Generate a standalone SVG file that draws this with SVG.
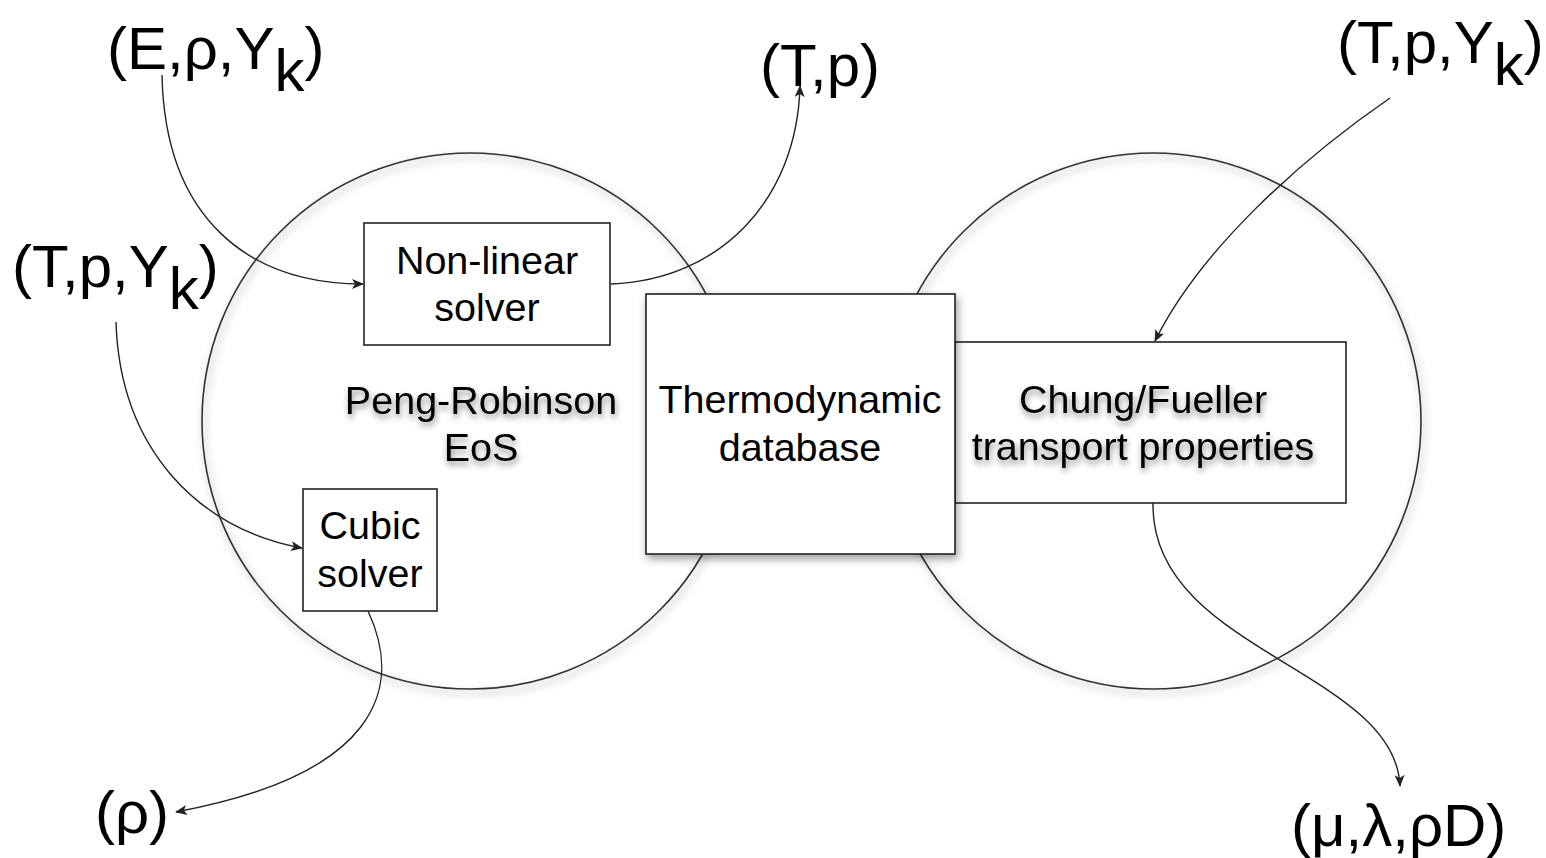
<svg xmlns="http://www.w3.org/2000/svg" width="1546" height="858" viewBox="0 0 1546 858">
<style>
.lbl{font-family:"Liberation Sans",Arial,Helvetica,sans-serif;font-size:60px;fill:#000}
.txt{font-family:"Liberation Sans",Arial,Helvetica,sans-serif;font-size:39.5px;fill:#000;text-anchor:middle}
.box{fill:#fff;stroke:#222;stroke-width:1.6}
.circ{fill:none;stroke:#333;stroke-width:1.6}
.con{fill:none;stroke:#222;stroke-width:1.4;marker-end:url(#arr)}
</style>
<defs>
<filter id="sh" x="-20%" y="-20%" width="140%" height="140%">
<feDropShadow dx="2" dy="4" stdDeviation="4" flood-color="#000" flood-opacity="0.4"/>
</filter>
<filter id="tsh" x="-20%" y="-30%" width="140%" height="160%">
<feDropShadow dx="1" dy="4" stdDeviation="3" flood-color="#000" flood-opacity="0.45"/>
</filter>
<marker id="arr" viewBox="0 0 12 10" refX="11" refY="5" markerWidth="12" markerHeight="10" markerUnits="userSpaceOnUse" orient="auto">
<path d="M0,0 L12,5 L0,10 L3,5 z" fill="#222"/>
</marker>
</defs>
<rect width="1546" height="858" fill="#fff"/>

<g id="circle-left"><circle class="circ" cx="470" cy="421" r="268" filter="url(#sh)"/></g>
<g id="circle-right"><circle class="circ" cx="1153" cy="421" r="268" filter="url(#sh)"/></g>

<g id="peng-robinson">
<text class="txt" x="481" y="414" filter="url(#tsh)">Peng-Robinson</text>
<text class="txt" x="481" y="461" filter="url(#tsh)">EoS</text>
</g>

<g id="nonlinear-solver">
<rect class="box" x="364" y="223" width="246" height="122"/>
<text class="txt" x="487" y="274">Non-linear</text>
<text class="txt" x="487" y="321">solver</text>
</g>

<g id="cubic-solver">
<rect class="box" x="303" y="489" width="134" height="122"/>
<text class="txt" x="370" y="539">Cubic</text>
<text class="txt" x="370" y="587">solver</text>
</g>

<g id="chung-fueller">
<rect class="box" x="955" y="342" width="391" height="161"/>
<text class="txt" x="1143" y="413" filter="url(#tsh)">Chung/Fueller</text>
<text class="txt" x="1143" y="460" filter="url(#tsh)">transport properties</text>
</g>

<g id="thermo-db">
<rect class="box" x="646" y="294" width="309" height="260" filter="url(#sh)"/>
<text class="txt" x="800" y="413">Thermodynamic</text>
<text class="txt" x="800" y="461">database</text>
</g>

<g id="label-E-rho-Yk"><text class="lbl" x="107" y="69">(E,ρ,Y<tspan dy="22">k</tspan><tspan dy="-22">)</tspan></text></g>
<g id="label-Tp"><text class="lbl" x="760" y="86">(T,p)</text></g>
<g id="label-TpYk-right"><text class="lbl" x="1337" y="63">(T,p,Y<tspan dy="22">k</tspan><tspan dy="-22">)</tspan></text></g>
<g id="label-TpYk-left"><text class="lbl" x="12" y="287">(T,p,Y<tspan dy="22">k</tspan><tspan dy="-22">)</tspan></text></g>
<g id="label-rho"><text class="lbl" x="95" y="833">(ρ)</text></g>
<g id="label-transport"><text class="lbl" x="1291" y="846">(μ,λ,ρD)</text></g>

<g id="connectors">
<path class="con" d="M162,75 C165,220 250,284 363,284"/>
<path class="con" d="M611,284 C720,280 797,200 800,86"/>
<path class="con" d="M116,322 C120,450 200,530 302,548"/>
<path class="con" d="M368,611 C405,690 375,775 176,812"/>
<path class="con" d="M1390,98 C1300,160 1200,250 1155,341"/>
<path class="con" d="M1153,503 C1150,650 1395,670 1400,786"/>
</g>
</svg>
